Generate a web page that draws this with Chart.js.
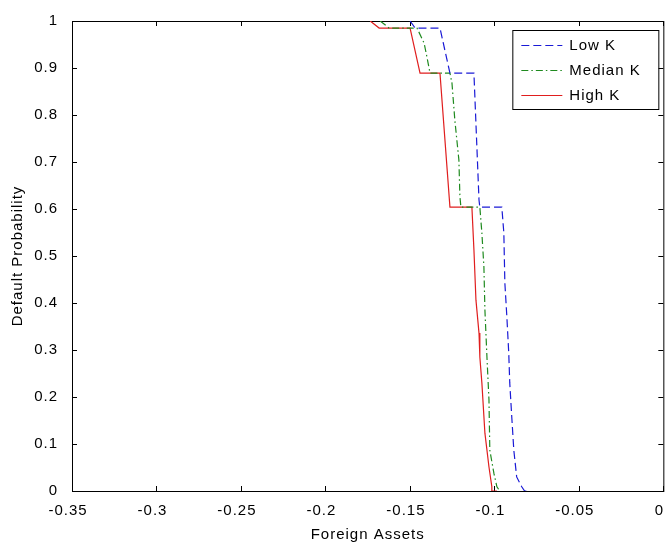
<!DOCTYPE html>
<html>
<head>
<meta charset="utf-8">
<script src="https://cdn.jsdelivr.net/npm/chart.js@4/dist/chart.umd.min.js"></script>
<style>
  html, body { margin: 0; padding: 0; background: #fff; }
  #wrap { width: 671px; height: 548px; }
</style>
</head>
<body>
<div id="wrap"><canvas id="myChart" width="671" height="548"></canvas></div>
<script>
// default probability vs. foreign assets, three capital levels
const lowX = [-0.1499, -0.1469, -0.1322, -0.1263, -0.1121, -0.1091, -0.1086, -0.0956, -0.0944, -0.0938, -0.0926, -0.0915, -0.0909, -0.0897, -0.0885, -0.0868, -0.0838, -0.0821, -0.0803];
const lowY = [1, 0.985, 0.985, 0.889, 0.889, 0.619, 0.604, 0.604, 0.549, 0.443, 0.370, 0.294, 0.230, 0.157, 0.087, 0.030, 0.009, 0, 0];

const medX = [-0.1676, -0.1623, -0.1458, -0.1416, -0.1399, -0.1381, -0.1263, -0.1251, -0.1234, -0.1210, -0.1204, -0.1198, -0.1086, -0.1074, -0.1062, -0.1056, -0.1044, -0.1032, -0.1027, -0.1003, -0.0985, -0.0968];
const medY = [1, 0.985, 0.985, 0.953, 0.923, 0.889, 0.889, 0.868, 0.789, 0.704, 0.626, 0.604, 0.604, 0.549, 0.477, 0.385, 0.285, 0.194, 0.087, 0.038, 0.009, 0];

const highX = [-0.1735, -0.1682, -0.1499, -0.1440, -0.1322, -0.1263, -0.1133, -0.1121, -0.1109, -0.1091, -0.1086, -0.1074, -0.1056, -0.1032, -0.1015, -0.1015, -0.0985];
const highY = [1, 0.985, 0.985, 0.889, 0.889, 0.604, 0.604, 0.513, 0.406, 0.336, 0.285, 0.230, 0.123, 0.051, 0.009, 0, 0];

const xTicks = [-0.35, -0.3, -0.25, -0.2, -0.15, -0.1, -0.05, 0];
const yTicks = [0, 0.1, 0.2, 0.3, 0.4, 0.5, 0.6, 0.7, 0.8, 0.9, 1];

const FONT = "'Liberation Sans', Arial, sans-serif";
const toPoints = (xs, ys) => xs.map((x, i) => ({ x: x, y: ys[i] }));

// slightly spaced-out lettering for every label on the canvas
const spacingPlugin = {
  id: "spacing",
  beforeLayout(chart) { chart.ctx.letterSpacing = "1px"; },
  beforeDraw(chart) { chart.ctx.letterSpacing = "1px"; }
};

// axes box with inward tick marks on all four sides, plus the legend
const boxPlugin = {
  id: "box",
  beforeDatasetsDraw(chart) {
    const { ctx, chartArea: a, scales } = chart;
    ctx.save();
    ctx.strokeStyle = "#000";
    ctx.lineWidth = 1;
    ctx.strokeRect(a.left + 0.5, a.top + 0.5, a.right - a.left, a.bottom - a.top);
    ctx.beginPath();
    xTicks.forEach(v => {
      const px = Math.round(scales.x.getPixelForValue(v)) + 0.5;
      ctx.moveTo(px, a.bottom); ctx.lineTo(px, a.bottom - 5);
      ctx.moveTo(px, a.top); ctx.lineTo(px, a.top + 5);
    });
    yTicks.forEach(v => {
      const py = Math.round(scales.y.getPixelForValue(v)) + 0.5;
      ctx.moveTo(a.left, py); ctx.lineTo(a.left + 5, py);
      ctx.moveTo(a.right, py); ctx.lineTo(a.right - 5, py);
    });
    ctx.stroke();
    ctx.restore();
  },
  afterDraw(chart) {
    const { ctx, chartArea: a } = chart;
    const w = 146, h = 79;
    const left = a.right - 5 - w, top = a.top + 9;
    ctx.save();
    ctx.fillStyle = "#fff";
    ctx.fillRect(left, top, w, h);
    ctx.strokeStyle = "#000";
    ctx.lineWidth = 1;
    ctx.strokeRect(left + 0.5, top + 0.5, w, h);
    ctx.font = "15px " + FONT;
    ctx.textBaseline = "middle";
    chart.data.datasets.forEach((ds, i) => {
      const y = Math.round(top + 15 + i * 25) + 0.5;
      ctx.strokeStyle = ds.borderColor;
      ctx.lineWidth = ds.borderWidth;
      ctx.setLineDash(ds.borderDash || []);
      ctx.beginPath();
      ctx.moveTo(left + 9, y);
      ctx.lineTo(left + 50, y);
      ctx.stroke();
      ctx.setLineDash([]);
      ctx.fillStyle = "#000";
      ctx.fillText(ds.label, left + 57, y);
    });
    ctx.restore();
  }
};

const ctx = document.getElementById("myChart").getContext("2d");
new Chart(ctx, {
  type: "line",
  data: {
    datasets: [
      { label: "Low K", data: toPoints(lowX, lowY), borderColor: "#1a1ad6", borderWidth: 1.2, borderDash: [8, 4] },
      { label: "Median K", data: toPoints(medX, medY), borderColor: "#1f8a1f", borderWidth: 1.2, borderDash: [7, 3, 1.5, 3] },
      { label: "High K", data: toPoints(highX, highY), borderColor: "#e01e1e", borderWidth: 1.2 }
    ]
  },
  options: {
    responsive: false,
    animation: false,
    layout: { padding: { top: 21, right: 3, left: 0, bottom: 0 } },
    elements: { point: { radius: 0 }, line: { tension: 0 } },
    plugins: {
      legend: { display: false },
      tooltip: { enabled: false }
    },
    scales: {
      x: {
        type: "linear",
        min: -0.35,
        max: 0,
        afterBuildTicks: s => { s.ticks = xTicks.map(v => ({ value: v })); },
        afterFit: s => { s.height = 57; },
        grid: { display: false },
        border: { display: false },
        ticks: {
          color: "#000",
          font: { family: FONT, size: 15 },
          padding: 3,
          labelOffset: -4,
          maxRotation: 0,
          autoSkip: false,
          callback: v => String(v)
        },
        title: {
          display: true,
          text: "Foreign Assets",
          color: "#000",
          font: { family: FONT, size: 15 },
          padding: { top: 0, bottom: 4 }
        }
      },
      y: {
        type: "linear",
        min: 0,
        max: 1,
        afterBuildTicks: s => { s.ticks = yTicks.map(v => ({ value: v })); },
        afterFit: s => { s.width = 72; },
        grid: { display: false },
        border: { display: false },
        ticks: {
          color: "#000",
          font: { family: FONT, size: 15 },
          padding: 6,
          autoSkip: false,
          callback: v => String(v)
        },
        title: {
          display: true,
          text: "Default Probability",
          color: "#000",
          font: { family: FONT, size: 15 },
          padding: { top: 9, bottom: 0 }
        }
      }
    }
  },
  plugins: [spacingPlugin, boxPlugin]
});
</script>
</body>
</html>
